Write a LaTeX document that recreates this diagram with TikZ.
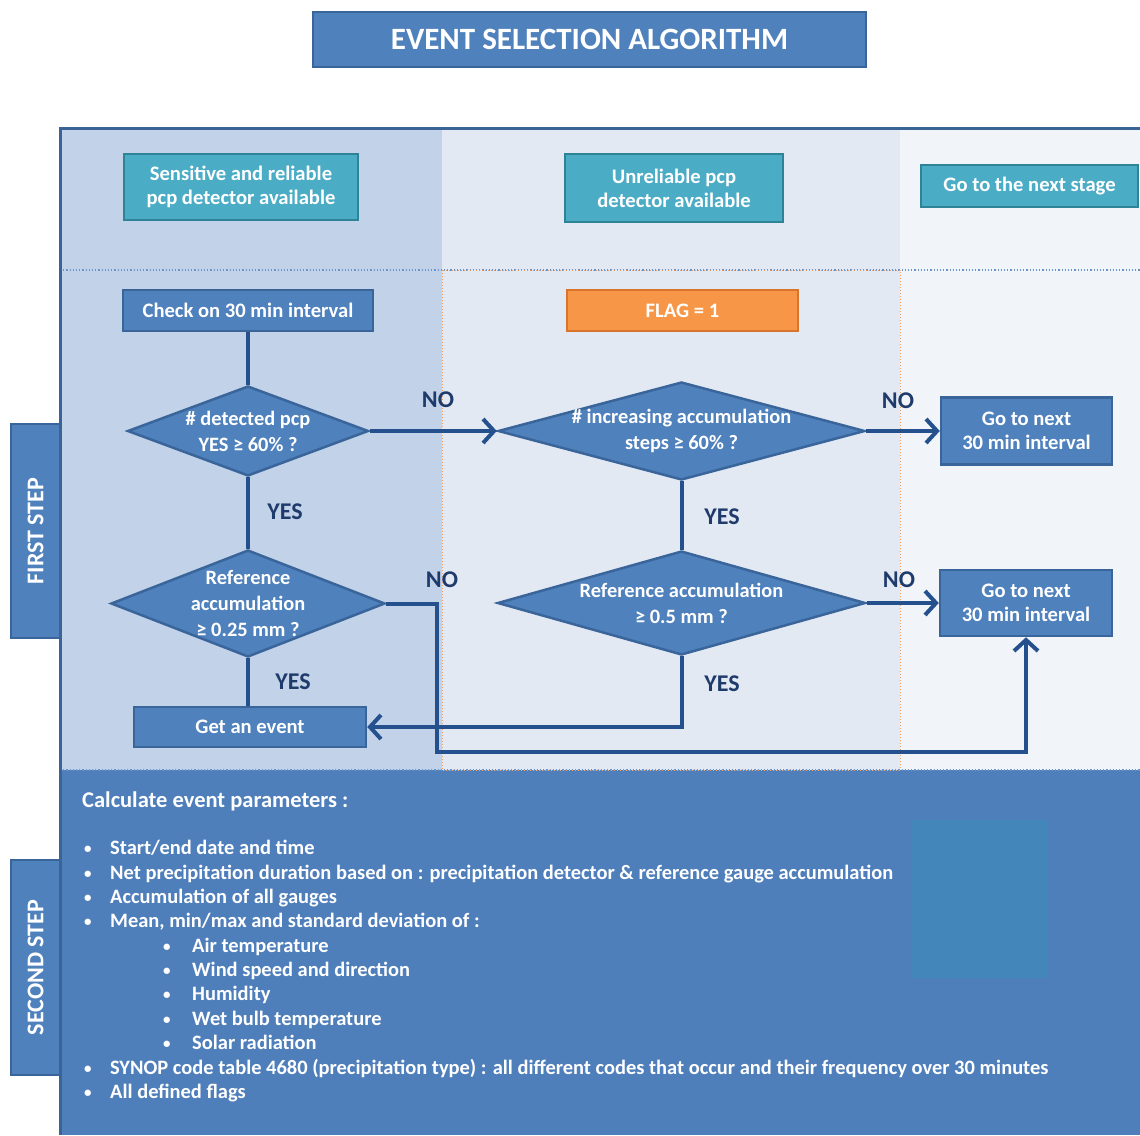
\documentclass[tikz,border=0pt]{standalone}
\usepackage{fontspec}
\setmainfont{Carlito}
\usetikzlibrary{shapes.geometric,arrows.meta}
\definecolor{bluefill}{HTML}{4F81BD}
\definecolor{boxline}{HTML}{3A659A}
\definecolor{tealfill}{HTML}{4BACC6}
\definecolor{tealline}{HTML}{2F8397}
\definecolor{orangefill}{HTML}{F79646}
\definecolor{orangeline}{HTML}{D8742C}
\definecolor{connc}{HTML}{24508E}
\definecolor{labc}{HTML}{1F3B6B}
\definecolor{colA}{HTML}{C2D2E8}
\definecolor{colB}{HTML}{E3E9F3}
\definecolor{colC}{HTML}{F1F4F9}
\definecolor{bottomc}{HTML}{4F7FBB}
\definecolor{innerc}{HTML}{4386BA}
\definecolor{framec}{HTML}{3B6496}
\definecolor{dotc}{HTML}{6A93CC}
\definecolor{orangedot}{HTML}{EFA060}
\newcommand\myfs[2]{\fontsize{#1}{#2}\selectfont}
\begin{document}
\begin{tikzpicture}[x=1pt,y=-1pt,
  bbox/.style={draw=boxline, fill=bluefill, line width=2.5pt, inner sep=0pt, text=white, font=\bfseries\myfs{20.6}{24}, align=center},
  tbox/.style={bbox, draw=tealline, fill=tealfill},
  obox/.style={bbox, draw=orangeline, fill=orangefill},
  dia/.style={diamond, draw=boxline, fill=bluefill, line width=2.5pt, inner sep=0pt},
  dtext/.style={text=white, font=\bfseries\myfs{20.4}{26}, align=center, inner sep=0pt},
  conn/.style={draw=connc, line width=4pt},
  arr/.style={conn, -{Straight Barb[length=11pt,width=24pt]}},
  lab/.style={text=labc, font=\bfseries\myfs{24}{26}, inner sep=0pt},
  side/.style={bbox, font=\bfseries\myfs{24}{26}},
  item/.style={anchor=base west, inner sep=0pt, text=white, font=\bfseries\myfs{20.45}{24}},
  bul/.style={anchor=base west, inner sep=0pt, text=white, font=\bfseries\myfs{15}{24}},
]
\useasboundingbox (0,0) rectangle (1140,1135);
\fill[white] (0,0) rectangle (1140,1135);
% backgrounds
\fill[colA] (60,128) rectangle (442,770);
\fill[colB] (442,128) rectangle (900,770);
\fill[colC] (900,128) rectangle (1140,770);
\fill[bottomc] (60,770) rectangle (1140,1135);
\fill[innerc] (912,820) rectangle (1047,978);
\draw[dotc, line width=1.2pt, dotted] (60,270) -- (1140,270);
\draw[dotc, line width=1.2pt, dotted] (60,770) -- (1140,770);
\draw[orangedot, line width=1pt, dotted] (442,270) rectangle (900,770);
% side labels
\node[side, minimum width=214, minimum height=49, rotate=90] (first) at (35.5,531) {FIRST STEP};
\node[side, minimum width=215, minimum height=49, rotate=90] (second) at (35.5,967.5) {SECOND STEP};
\draw[framec, line width=3pt] (60,1135) -- (60,128) -- (1140,128);
% title
\node[bbox, minimum width=553, minimum height=55, font=\bfseries\myfs{31}{34}] (title) at (589.5,39.5) {EVENT SELECTION ALGORITHM};
% top boxes
\node[tbox, minimum width=234, minimum height=66] (t1) at (241,187) {Sensitive and reliable\\pcp detector available};
\node[tbox, minimum width=218, minimum height=68] (t2) at (674,188) {Unreliable pcp\\detector available};
\node[tbox, minimum width=217, minimum height=42] (t3) at (1029.5,186) {Go to the next stage};
% flow nodes
\node[bbox, minimum width=250, minimum height=41] (check) at (248,310.5) {Check on 30 min interval};
\node[dia, minimum width=241, minimum height=90] (d1) at (248,431) {};
\node[dtext] (d1t) at (d1) {\# detected pcp\\YES ≥ 60\% ?};
\node[dia, minimum width=274, minimum height=107] (d2) at (248,603.5) {};
\node[dtext] (d2t) at (d2) {Reference\\accumulation\\≥ 0.25 mm ?};
\node[bbox, minimum width=232, minimum height=40] (get) at (250,727) {Get an event};
\node[obox, minimum width=231, minimum height=41] (flag) at (682.5,310.5) {FLAG = 1};
\node[dia, minimum width=367, minimum height=98] (d3) at (681.5,431) {};
\node[dtext] (d3t) at (d3) {\# increasing accumulation\\steps ≥ 60\% ?};
\node[dia, minimum width=368, minimum height=104] (d4) at (681.5,603) {};
\node[dtext] (d4t) at (d4) {Reference accumulation\\≥ 0.5 mm ?};
\node[bbox, minimum width=171, minimum height=67] (nx1) at (1026.5,431) {Go to next\\30 min interval};
\node[bbox, minimum width=172, minimum height=66] (nx2) at (1026,603) {Go to next\\30 min interval};
% connectors
\draw[conn] (check.south) -- (d1.north);
\draw[conn] (d1.south) -- (d2.north);
\draw[conn] (d2.south) -- (d2.south |- get.north);
\draw[conn] (d3.south) -- (d4.north);
\draw[arr] (d1.east) -- (d3.west);
\draw[arr] (d3.east) -- (nx1.west);
\draw[arr] (d4.east) -- (nx2.west);
\draw[arr] (d4.south) |- (get.east);
\coordinate (lp) at (437,752);
\draw[arr] (d2.east) -| (lp) -| (nx2.south);
% labels
\node[lab] (no1) at (438,400) {NO};
\node[lab] (no2) at (898,401) {NO};
\node[lab] (no3) at (442,580) {NO};
\node[lab] (no4) at (899,580) {NO};
\node[lab] (yes1) at (285,512) {YES};
\node[lab] (yes2) at (293,682) {YES};
\node[lab] (yes3) at (722,517) {YES};
\node[lab] (yes4) at (722,684) {YES};
% second step text
\node[item, font=\bfseries\myfs{22.5}{24}] (head) at (82,807) {Calculate event parameters :};
\node[bul] (b1) at (84,853) {•};
\node[item] (i1) at (110,854) {Start/end date and time};
\node[bul] (b2) at (84,878) {•};
\node[item] (i2) at (110,879) {Net precipitation duration based on : precipitation detector \& reference gauge accumulation};
\node[bul] (b3) at (84,902) {•};
\node[item] (i3) at (110,903) {Accumulation of all gauges};
\node[bul] (b4) at (84,926) {•};
\node[item] (i4) at (110,927) {Mean, min/max and standard deviation of :};
\node[bul] (b5) at (163,951) {•};
\node[item] (i5) at (192,952) {Air temperature};
\node[bul] (b6) at (163,975) {•};
\node[item] (i6) at (192,976) {Wind speed and direction};
\node[bul] (b7) at (163,999) {•};
\node[item] (i7) at (192,1000) {Humidity};
\node[bul] (b8) at (163,1024) {•};
\node[item] (i8) at (192,1025) {Wet bulb temperature};
\node[bul] (b9) at (163,1048) {•};
\node[item] (i9) at (192,1049) {Solar radiation};
\node[bul] (b10) at (84,1073) {•};
\node[item] (i10) at (110,1074) {SYNOP code table 4680 (precipitation type) : all different codes that occur and their frequency over 30 minutes};
\node[bul] (b11) at (84,1097) {•};
\node[item] (i11) at (110,1098) {All defined flags};
\end{tikzpicture}
\end{document}
